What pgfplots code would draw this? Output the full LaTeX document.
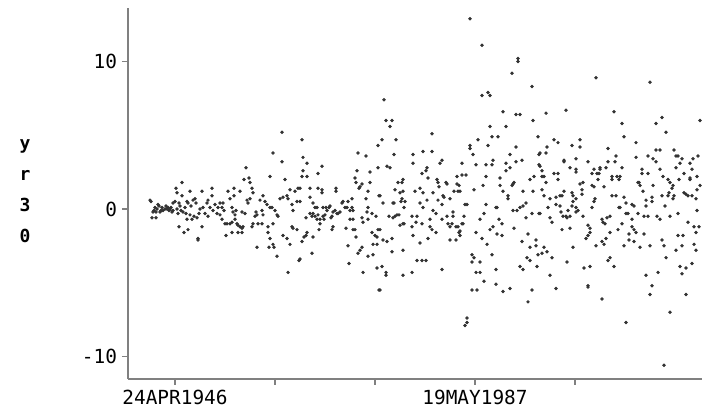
\documentclass[border=0pt]{standalone}
\usepackage{fontspec}
\setmainfont{DejaVu Sans Mono}
\usepackage{pgfplots}
\usepackage{pgfplotstable}
\pgfplotsset{compat=1.18}
\definecolor{axgray}{RGB}{128,128,128}
\definecolor{dotcol}{RGB}{50,50,50}
\pgfplotstableread{
x y
-1250 0.6
-1200 0.5
-1100 -0.2
-1050 -0.1
-1000 0.1
-950 -0.2
-900 0.0
-1150 -0.6
-950 -0.6
-800 0.2
-700 -0.1
-650 0.1
-600 -0.1
-500 0.0
-400 0.0
-350 0.1
-300 -0.1
-200 0.1
-150 -0.2
-100 0.4
0 0.5
100 0.0
100 1.1
50 1.4
350 1.8
350 0.9
200 0.4
300 -0.1
400 -0.2
600 0.5
650 0.4
550 -0.3
750 1.2
200 -1.2
450 -1.6
650 -1.4
750 -0.4
850 -0.7
950 -0.5
1050 0.4
1100 -0.6
1150 -2.0
1150 -2.1
1250 0.0
1350 1.2
1350 -1.2
1400 0.1
1500 -0.3
1600 0.4
1650 0.6
1750 0.1
1850 1.4
1850 0.9
1900 -0.1
2000 0.3
2100 -0.3
2150 0.1
900 0.6
1000 0.7
1650 -0.5
600 -0.7
-100 -0.1
150 -0.3
-850 0.3
-750 -0.2
-450 0.2
-250 0.0
250 0.2
500 0.1
800 0.2
1200 -0.3
5350 5.2
4900 3.8
5350 3.2
3550 2.8
3450 2.0
3700 2.1
3750 1.8
4750 2.2
5500 2.0
2950 1.4
2650 1.2
3250 1.2
3850 1.4
3900 1.1
2950 0.9
2750 0.7
3600 0.6
3650 0.4
3750 0.7
4400 0.9
4250 0.6
4500 0.5
4600 0.3
2250 0.4
2400 0.4
2350 0.1
2450 -0.1
2850 0.1
2900 -0.2
3050 -0.1
3000 -0.4
3350 -0.2
3500 -0.3
4050 -0.2
4100 -0.4
4000 -0.5
4350 -0.1
4400 -0.4
4750 0.1
4850 0.1
5000 -0.1
5100 -0.4
5150 -0.5
5250 0.7
5400 0.8
5600 0.9
5650 0.7
5750 1.3
6000 1.2
6150 1.4
5850 0.3
5900 -0.1
6100 0.5
2250 -0.4
2350 -0.7
2500 -1.0
2600 -1.0
2750 -1.0
2850 -0.9
3000 -0.7
3100 -1.0
3150 -1.1
3250 -1.2
3350 -1.3
3400 -1.2
3850 -1.2
3900 -1.0
4150 -1.0
4350 -1.0
4650 -1.2
4900 -1.0
2550 -1.8
2850 -1.6
3150 -1.6
3350 -1.6
4650 -1.6
4750 -2.0
4900 -2.4
5400 -1.8
5600 -2.0
5750 -2.4
5850 -1.2
5900 -1.3
6100 -1.4
4100 -2.6
4700 -2.6
4950 -2.6
5100 -3.2
6200 -3.5
5650 -4.3
6350 4.7
6400 3.5
6600 3.1
6400 2.6
6350 2.2
6600 2.2
7350 2.9
7150 2.4
6250 1.4
6750 1.4
7150 1.4
7350 1.3
7350 1.1
6250 0.5
6750 0.8
6900 0.4
7000 0.1
7100 0.1
6900 -0.3
6850 -0.5
6550 -0.6
6750 -0.3
7000 -0.5
7150 -0.4
7100 -0.7
7250 -0.7
7400 -0.5
7250 -1.0
7200 -1.4
7400 0.1
7550 0.1
7600 -0.1
7700 0.1
7750 0.2
7500 -0.4
7450 -0.7
7800 -0.6
7850 -0.5
7900 -0.2
8000 -0.1
8100 -0.3
8150 -0.3
8250 -0.2
8350 0.4
8400 0.5
8500 0.1
8600 0.1
8650 0.5
8750 -0.1
8850 0.1
8900 -0.1
8050 1.4
8050 1.2
8850 0.7
7900 -1.2
7850 -1.4
8550 -1.3
8750 -0.7
8900 -0.7
8900 -1.4
6550 -1.8
6450 -1.9
6600 -1.6
6900 -1.9
6350 -2.2
6850 -3.0
6250 -3.4
8650 -2.5
8700 -3.7
9150 -3.0
9350 -2.6
9250 -2.8
9400 -4.3
9050 -1.9
9000 -1.4
9150 3.8
9550 3.6
9100 2.6
9000 2.1
9050 1.8
9250 1.5
9350 1.7
9200 1.4
9750 2.5
9750 1.8
9650 1.2
10150 4.3
10150 2.8
9550 0.7
9650 0.1
9600 -0.2
9850 -0.3
10050 -0.5
9350 -0.6
9400 -0.9
9650 -0.7
9850 -1.6
10000 -1.8
10100 -1.9
9900 -2.4
10100 -2.4
9650 -3.2
9900 -3.1
10200 0.9
10150 -1.4
10100 -4.0
10200 -5.5
10450 7.4
10550 6.0
10850 6.0
10750 5.6
10350 4.7
11050 4.7
10950 3.7
10600 2.9
10750 2.8
11900 3.7
11900 3.1
12400 3.9
12850 3.9
12850 5.1
12350 2.4
12550 2.6
12600 2.8
12650 2.1
13250 3.1
13350 3.3
11150 1.8
11350 1.8
11400 2.0
10250 0.9
10400 0.4
10900 0.4
10950 0.4
11000 1.3
11250 1.1
11400 1.2
11300 0.5
11500 0.5
11450 0.1
11350 0.7
12000 1.2
12250 1.4
12400 1.1
12600 0.6
12250 0.4
12400 0.1
12900 1.1
13100 2.0
13150 1.8
13200 1.5
13550 1.8
13600 1.7
14100 2.2
14100 1.7
14200 1.6
14150 1.2
12900 -0.1
13050 -0.3
13150 0.6
13350 0.3
13400 0.9
13450 0.8
13750 0.7
13950 1.2
10700 -0.5
11000 -0.5
11100 -0.4
11200 -0.4
10900 -0.6
11250 -1.1
11400 -1.0
11450 -1.0
11850 -0.5
12100 -0.5
12050 -0.9
11850 -1.2
12350 -1.0
12750 -0.7
12750 -1.2
12850 -1.4
13050 -1.6
13350 -0.7
13600 -0.5
13650 -1.0
13750 -1.2
13850 -1.0
13900 -0.2
13900 -0.5
14050 -1.2
14150 -1.2
14200 -1.6
13750 -2.1
14050 -2.1
10250 -1.4
10400 -2.1
10600 -2.2
10850 -2.0
11900 -1.8
12250 -2.3
12650 -2.0
10850 -2.9
11400 -2.8
12100 -3.5
12350 -3.5
12550 -3.5
10350 -3.9
10550 -4.3
10550 -4.5
11400 -4.5
11850 -4.3
13350 -4.1
10250 -5.5
14750 12.9
15350 11.1
17150 10.2
17150 10.0
16850 9.2
17850 8.3
15350 7.7
15650 7.9
15750 7.7
16400 6.6
17050 6.4
17250 6.4
17900 6.0
15750 5.6
16550 5.6
18150 4.9
15850 4.9
16150 4.9
15150 4.7
14750 4.3
14750 4.1
15650 4.3
14900 3.7
16750 3.7
17050 4.2
18200 3.7
14350 3.1
15050 3.0
15550 3.0
15850 3.0
15900 3.3
16550 3.1
16750 2.8
16550 2.6
17050 3.2
17350 3.3
18200 3.0
14350 2.3
14550 2.3
15550 2.2
16250 2.1
17950 2.2
17750 2.0
14250 1.2
14950 1.3
15400 1.6
16250 1.6
16400 1.2
16850 1.6
16950 1.8
16900 1.7
17400 1.2
17900 1.2
16650 0.9
16650 0.7
14500 0.3
14600 0.3
15550 0.3
16050 0.1
16100 0.1
16900 -0.1
17100 -0.1
17250 0.1
17400 0.2
17550 0.4
18200 -0.3
17850 -0.3
17550 -0.6
14350 -1.0
14400 -1.0
14450 -0.5
14250 -1.5
14250 -1.8
15250 -0.7
15450 -0.3
16200 -0.7
16350 -1.0
16950 -1.3
15900 -1.2
15750 -1.4
16100 -1.7
16350 -1.8
15050 -1.6
15350 -2.0
15600 -2.4
17350 -2.2
17650 -1.7
17750 -2.6
18050 -2.1
18050 -2.5
18150 -3.1
14850 -3.1
14950 -3.3
14850 -3.6
15250 -3.6
15850 -3.1
17600 -3.3
17750 -3.5
17250 -3.9
17400 -4.1
18100 -3.9
15050 -4.3
15250 -4.3
16050 -4.1
15450 -4.9
16050 -5.1
16400 -5.6
16750 -5.4
14850 -5.5
15100 -5.5
17850 -5.5
17650 -6.3
14600 -7.4
14600 -7.7
14500 -7.9
21050 8.9
18550 6.5
19550 6.7
21950 6.6
18950 4.7
19150 4.5
20250 4.7
19850 4.3
20250 4.2
18600 4.2
18250 3.8
18550 3.8
21650 4.1
22050 3.6
22000 3.2
21650 3.2
20650 3.2
20050 3.4
19450 3.3
19450 3.2
18250 2.9
19750 2.8
20050 2.7
20050 2.5
21250 2.8
21250 2.7
20950 2.7
21550 2.8
18350 2.6
18450 2.2
18950 2.4
19150 2.4
18350 2.2
18550 1.8
19150 2.0
20850 2.4
21100 2.4
21200 2.4
21150 2.0
21850 2.2
21850 2.0
22100 2.2
22200 2.0
20250 1.7
20400 1.8
20350 1.3
20350 1.0
20850 1.6
20950 1.5
21450 1.5
18350 1.3
18450 0.9
18750 0.7
19050 0.8
19250 0.9
19350 0.9
19450 1.2
19850 1.1
19900 0.9
20050 0.7
21000 0.7
20950 0.5
21850 0.9
22050 0.9
19050 0.3
19250 0.2
18650 0.1
19900 0.5
19850 0.2
20050 0.1
20050 -0.2
20150 -0.1
20400 -0.5
20850 0.1
22200 0.1
18250 -0.3
18750 -0.6
18850 -0.9
19300 -0.2
19400 -0.5
19550 -0.5
19600 -0.6
19750 -0.5
19650 -0.1
19350 -1.4
19750 -1.3
21350 -0.7
21500 -1.0
21600 -0.6
21750 -0.5
21400 -0.9
22150 -1.4
21750 -1.6
20650 -1.1
20750 -1.3
20750 -1.6
20650 -1.8
20550 -2.0
21050 -2.5
21350 -2.2
21450 -2.4
21550 -2.0
18450 -2.6
18350 -3.0
18600 -2.9
18850 -3.3
19900 -2.6
19600 -3.6
21650 -3.5
21750 -3.3
21950 -3.9
20450 -4.0
20750 -3.9
18750 -4.5
19050 -5.4
20650 -5.2
20650 -5.3
21350 -6.1
23750 8.6
22350 5.8
24050 5.8
24350 6.2
24550 5.2
26250 6.0
22450 4.9
23050 4.5
24050 4.0
24250 4.0
24950 4.0
25050 3.6
25150 3.6
23050 3.5
23650 3.6
26150 3.6
25900 3.4
25350 3.4
25250 3.1
23900 3.4
24050 3.2
22350 2.8
23350 2.7
23350 2.4
23650 2.4
24250 2.7
25050 2.8
25750 3.1
25850 2.7
25450 2.4
22250 2.2
23150 1.8
23200 1.8
24400 2.2
24650 2.0
24750 1.8
24900 1.6
25200 2.0
25750 2.1
25750 2.0
26100 2.2
23250 1.6
23900 1.6
23400 1.2
24850 1.4
24700 1.1
24650 0.9
24950 0.9
24900 0.7
26250 1.6
26100 1.3
22450 0.8
23850 0.8
23850 0.5
23550 0.6
24350 0.9
25450 1.1
25550 1.0
25650 0.9
25850 0.9
26050 0.7
26100 -0.1
22550 0.4
22850 0.3
22950 0.2
22250 0.1
22550 -0.3
22650 -0.3
23150 -0.3
23450 -0.5
23650 -0.5
23550 0.2
24500 0.2
24100 -0.5
24250 -0.7
24750 -0.5
25150 -0.3
22350 -1.0
22850 -0.7
22850 -1.2
22950 -1.4
23050 -1.6
22700 -1.7
23450 -1.7
25650 -0.9
26050 -1.6
26200 -1.2
25950 -1.2
22700 -2.1
22950 -2.2
22450 -2.5
23250 -2.6
23750 -2.5
24350 -2.1
24450 -2.5
25150 -1.8
25400 -1.8
25350 -2.5
25050 -2.8
25950 -2.4
26050 -2.8
24550 -3.3
25250 -3.9
25550 -4.0
25350 -4.4
25850 -3.7
23550 -4.5
24150 -4.3
23850 -5.2
23750 -5.8
25550 -5.8
24750 -7.0
22550 -7.7
24450 -10.6
}\data
\begin{document}
\begin{tikzpicture}
\useasboundingbox (-64pt,-16pt) rectangle (287pt,189.5pt);
\begin{axis}[
  at={(0,0)}, anchor=south west,
  scale only axis, width=287pt, height=185.5pt,
  xmin=-2350, xmax=26350, ymin=-11.53, ymax=13.63,
  axis x line=bottom, axis y line=left,
  axis line style={-, draw=axgray, line width=1pt},
  xtick={0,5000,10000,15000,20000},
  xticklabels={24APR1946,,,19MAY1987,},
  ytick={-10,0,10},
  yticklabels={-10,0,10},
  xtick align=outside, ytick align=outside,
  major tick length=3pt,
  tick style={draw=axgray, line width=0.8pt},
  ticklabel style={font=\fontsize{9.7}{11}\selectfont, text=black},
  xticklabel style={yshift=1pt},
  yticklabel style={xshift=1pt},
  /pgf/number format/assume math mode=true,
  clip=true,
]
\addplot[only marks, mark=*, mark size=0.65pt, draw=dotcol, fill=dotcol] table {\data};
\end{axis}
\node[align=center, font=\fontsize{9}{15.5}\selectfont\bfseries, inner sep=0pt] at (-51.5pt,94pt) {y\\r\\3\\0};
\end{tikzpicture}
\end{document}
